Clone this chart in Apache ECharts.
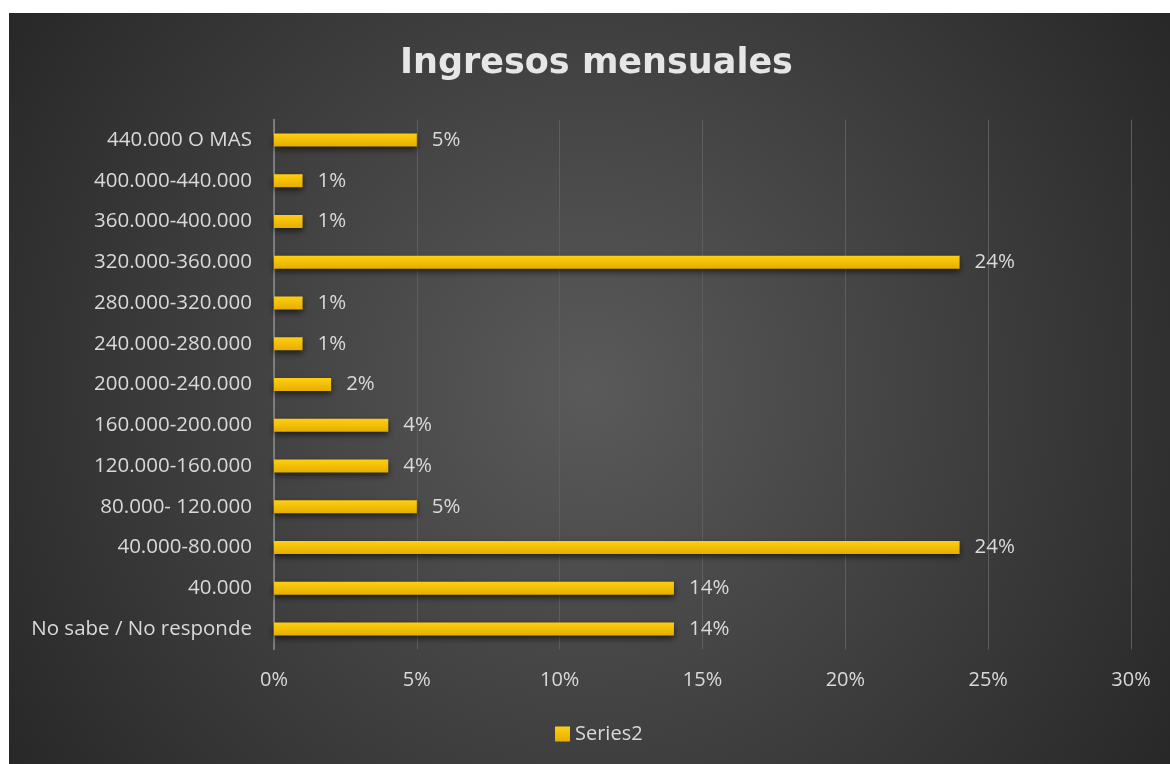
<!DOCTYPE html>
<html>
<head>
<meta charset="utf-8">
<script src="https://cdn.jsdelivr.net/npm/echarts@6/dist/echarts.min.js"></script>
<style>
  html, body { margin: 0; padding: 0; background: #fff; }
  #chart { position: absolute; left: 9px; top: 13px; width: 1161px; height: 751px; }
</style>
</head>
<body>
<div id="chart"></div>
<script>
// categories from bottom to top (as drawn on the y axis)
const categories = [
  'No sabe / No responde',
  '40.000',
  '40.000-80.000',
  '80.000- 120.000',
  '120.000-160.000',
  '160.000-200.000',
  '200.000-240.000',
  '240.000-280.000',
  '280.000-320.000',
  '320.000-360.000',
  '360.000-400.000',
  '400.000-440.000',
  '440.000 O MAS'
]
const series2 = [14, 14, 24, 5, 4, 4, 2, 1, 1, 24, 1, 1, 5]
const xTicks = [0, 5, 10, 15, 20, 25, 30]

const chart = echarts.init(document.getElementById('chart'))

const textColor = '#d9d9d9'
const labelFont = '"Open Sans", sans-serif'

chart.setOption({
  animation: false,
  backgroundColor: {
    type: 'radial', x: 0.5, y: 0.5, r: 0.95,
    colorStops: [
      { offset: 0, color: '#5a5a5a' },
      { offset: 1, color: '#262626' }
    ]
  },
  title: {
    text: 'Ingresos mensuales',
    left: 386,
    top: 28,
    textStyle: {
      color: '#e6e6e6',
      fontSize: 35,
      fontWeight: 'bold',
      fontFamily: '"DejaVu Sans", sans-serif'
    }
  },
  legend: {
    bottom: 15,
    left: 541,
    icon: 'rect',
    itemWidth: 15,
    itemHeight: 15,
    itemGap: 6,
    textStyle: { color: textColor, fontSize: 20, fontFamily: labelFont },
    data: ['Series2']
  },
  grid: {
    left: 265,
    right: 39,
    top: 106.6,
    bottom: 114.6,
    containLabel: false
  },
  xAxis: {
    type: 'value',
    min: xTicks[0],
    max: xTicks[xTicks.length - 1],
    interval: 5,
    axisLine: { show: false },
    axisTick: { show: false },
    splitLine: { show: true, lineStyle: { color: '#5e5e5e', width: 1 } },
    axisLabel: {
      color: textColor,
      fontSize: 20,
      fontFamily: labelFont,
      margin: 21,
      formatter: v => v + '%'
    }
  },
  yAxis: {
    type: 'category',
    data: categories,
    axisLine: { show: true, lineStyle: { color: '#8c8c8c', width: 1.5 } },
    axisTick: { show: false },
    axisLabel: {
      color: textColor,
      fontSize: 20.5,
      fontFamily: labelFont,
      margin: 22
    }
  },
  series: [
    {
      name: 'Series2',
      type: 'bar',
      data: series2,
      barWidth: 13,
      itemStyle: {
        color: {
          type: 'linear', x: 0, y: 0, x2: 0, y2: 1,
          colorStops: [
            { offset: 0, color: '#ffcf10' },
            { offset: 1, color: '#e5ae00' }
          ]
        },
        shadowColor: 'rgba(0,0,0,0.6)',
        shadowBlur: 6,
        shadowOffsetY: 3
      },
      label: {
        show: true,
        position: 'right',
        distance: 15,
        color: textColor,
        fontSize: 20.5,
        fontFamily: labelFont,
        formatter: p => p.value + '%'
      }
    }
  ]
})
</script>
</body>
</html>
